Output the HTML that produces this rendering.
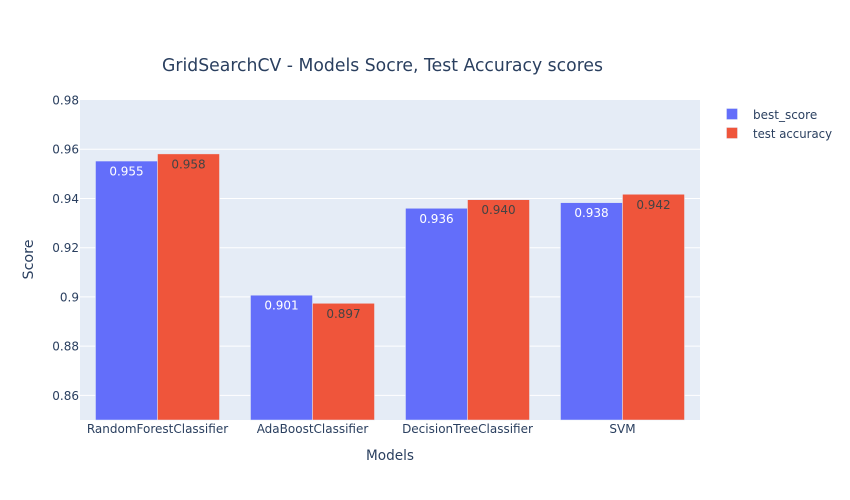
<!DOCTYPE html>
<html>
<head>
<meta charset="utf-8">
<style>
html,body{margin:0;padding:0;background:#fff;width:850px;height:500px;overflow:hidden}
svg{display:block}
text{font-family:"DejaVu Sans","Liberation Sans",sans-serif;fill:#2a3f5f}
</style>
</head>
<body>
<svg id="chart" width="850" height="500" viewBox="0 0 850 500" xmlns="http://www.w3.org/2000/svg">
  <rect x="80" y="100" width="620" height="320" fill="#E5ECF6"/>
  <g id="grid"></g>
  <g id="bars"></g>
  <g id="yticks"></g>
  <g id="xticks"></g>
  <text x="162" y="71" font-size="18" textLength="441" lengthAdjust="spacingAndGlyphs">GridSearchCV - Models Socre, Test Accuracy scores</text>
  <text x="366" y="460" font-size="14" textLength="48" lengthAdjust="spacingAndGlyphs">Models</text>
  <text x="0" y="0" font-size="14" textLength="40" lengthAdjust="spacingAndGlyphs" transform="translate(33 279.5) rotate(-90)">Score</text>
  <g>
    <g>
      <rect x="726.5" y="108.5" width="11" height="11" fill="#636efa" stroke="#E5ECF6" stroke-width="0.5"/>
      <text x="753" y="119" font-size="12">best_score</text>
    </g>
    <g>
      <rect x="726.5" y="127.5" width="11" height="11" fill="#EF553B" stroke="#E5ECF6" stroke-width="0.5"/>
      <text x="753" y="138" font-size="12" textLength="79" lengthAdjust="spacingAndGlyphs">test accuracy</text>
    </g>
  </g>
</svg>
<script>
const categories = ["RandomForestClassifier", "AdaBoostClassifier", "DecisionTreeClassifier", "SVM"];
const bestScore = [0.9552, 0.9007, 0.9360, 0.9383];
const testAccuracy = [0.9581, 0.8974, 0.9395, 0.9417];
const bestScoreLabels = ["0.955", "0.901", "0.936", "0.938"];
const testAccuracyLabels = ["0.958", "0.897", "0.940", "0.942"];
const yTicks = [0.86, 0.88, 0.9, 0.92, 0.94, 0.96, 0.98];
const yTickLabels = ["0.86", "0.88", "0.9", "0.92", "0.94", "0.96", "0.98"];

const NS = "http://www.w3.org/2000/svg";
const plot = {left: 80, top: 100, width: 620, height: 320};
const yMin = 0.85, yMax = 0.98;
function yScale(v) { return plot.top + (yMax - v) / (yMax - yMin) * plot.height; }
function bandWidth() { return plot.width / categories.length; }
function xCenter(i) { return plot.left + bandWidth() * (i + 0.5); }
function make(tag, attrs, parent, text) {
  const el = document.createElementNS(NS, tag);
  for (const k in attrs) el.setAttribute(k, attrs[k]);
  if (text !== undefined) el.textContent = text;
  parent.appendChild(el);
  return el;
}
const gridG = document.getElementById("grid");
const barsG = document.getElementById("bars");
const yG = document.getElementById("yticks");
const xG = document.getElementById("xticks");

yTicks.forEach(function (t, i) {
  const y = yScale(t);
  if (t < yMax) {
    const line = make("line", {x1: plot.left, x2: plot.left + plot.width, y1: y, y2: y, stroke: "#fff", "stroke-width": 1}, gridG);
    
    
  }
  const label = make("text", {x: 79, y: y + 4.5, "font-size": 12, "text-anchor": "end"}, yG, yTickLabels[i]);
  
  
});

const barW = bandWidth() * 0.8 / 2;
const series = [
  {values: bestScore, labels: bestScoreLabels, color: "#636efa", text: "#ffffff", offset: -1},
  {values: testAccuracy, labels: testAccuracyLabels, color: "#EF553B", text: "#444444", offset: 0}
];
series.forEach(function (s) {
  s.values.forEach(function (v, i) {
    const x = xCenter(i) + s.offset * barW;
    const y = yScale(v);
    const bottom = yScale(yMin);
    const bar = make("rect", {x: x, y: y, width: barW, height: bottom - y, fill: s.color, stroke: "#E5ECF6", "stroke-width": 0.5}, barsG);
    
    
    const label = make("text", {x: x + barW / 2, y: y + 14.5, "font-size": 12, "text-anchor": "middle"}, barsG, s.labels[i]);
    label.style.fill = s.text;
    
    
  });
});

categories.forEach(function (c, i) {
  const label = make("text", {x: xCenter(i), y: 433, "font-size": 12, "text-anchor": "middle"}, xG, c);
  
  
});
</script>
</body>
</html>
